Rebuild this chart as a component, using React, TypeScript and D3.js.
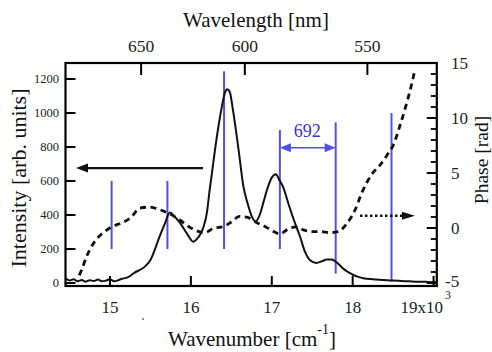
import React from "react";
import * as d3 from "d3";

// ---- data (wavenumber in 10^3 cm^-1) ----
const specWn = [
  14.46, 14.5, 14.55, 14.6, 14.65, 14.7, 14.75, 14.8, 14.85, 14.9, 14.95, 15.0, 15.05, 15.1, 15.15,
  15.2, 15.25, 15.3, 15.35, 15.4, 15.45, 15.5, 15.56, 15.62, 15.68, 15.74, 15.8, 15.87, 15.95,
  16.03, 16.08, 16.12, 16.16, 16.2, 16.23, 16.26, 16.3, 16.34, 16.38, 16.42, 16.45, 16.48, 16.52,
  16.59, 16.65, 16.7, 16.75, 16.8, 16.85, 16.9, 16.94, 17.0, 17.05, 17.1, 17.14, 17.2, 17.27,
  17.35, 17.41, 17.47, 17.55, 17.62, 17.68, 17.74, 17.8, 17.88, 17.95, 18.01, 18.07, 18.13,
  18.25, 18.38, 18.5, 18.6, 18.7, 18.8, 18.9, 19.0, 19.04,
];
const specIntensity = [
  25, 15, 22, 10, 18, 8, 16, 12, 20, 10, 14, 22, 10, 16, 25,
  30, 42, 60, 72, 85, 105, 135, 204, 282, 351, 414, 390, 351, 292,
  243, 262, 290, 335, 420, 540, 645, 790, 919, 1030, 1118, 1140, 1125, 1018,
  782, 566, 470, 395, 362, 400, 480, 547, 620, 640, 600, 566, 475, 375,
  272, 184, 135, 118, 128, 138, 138, 122, 86, 62, 47, 36, 28,
  22, 18, 14, 12, 10, 8, 7, 5, 5,
];

const phaseWn = [
  14.62, 14.65, 14.71, 14.77, 14.86, 14.94, 15.02, 15.14, 15.25, 15.37, 15.49, 15.62, 15.72,
  15.85, 16.0, 16.17, 16.28, 16.4, 16.5, 16.6, 16.7, 16.8, 16.92, 17.03, 17.1, 17.2, 17.3,
  17.4, 17.5, 17.6, 17.72, 17.82, 17.93, 18.03, 18.11, 18.23, 18.34, 18.44, 18.5, 18.58,
  18.65, 18.71, 18.77,
];
const phaseRad = [
  -4.3, -3.8, -2.6, -1.7, -0.8, -0.3, 0.1, 0.45, 0.9, 1.8, 1.9, 1.65, 1.35,
  0.8, 0.0, -0.42, -0.03, 0.12, 0.55, 1.05, 0.97, 0.55, 0.12, -0.35, -0.55, -0.1, 0.1,
  -0.2, -0.33, -0.33, -0.42, -0.33, 0.42, 1.64, 3.15, 4.82, 5.73, 6.8, 7.5, 9.2,
  10.9, 12.5, 14.4,
];

// blue marker lines
const markerWn = [15.02, 15.71, 16.41, 17.1, 17.79, 18.48];
const markerTop = [600, 600, 1245, 900, 945, 1000];
const markerBottom = [200, 200, 200, 200, 55, 8];

// ticks
const wnTicks = [15, 16, 17, 18, 19];
const wavelengthTicks = [650, 600, 550];
const intensityTicks = [0, 200, 400, 600, 800, 1000, 1200];
const phaseTicks = [-5, 0, 5, 10, 15];
const phaseMinorTicks = [-4, -3, -2, -1, 1, 2, 3, 4, 6, 7, 8, 9, 11, 12, 13, 14];

// annotations
const spacingLabel = "692";
const spacingFrom = 17.1;
const spacingTo = 17.79;
const spacingLevel = 796;

const W = 492;
const H = 352;
const FONT = '"Liberation Serif"';
const BLUE = "#5050ee";
const BLUE_TEXT = "#3434e0";

export default function App() {
  const x = d3.scaleLinear().domain([14.45, 19.04]).range([65.5, 436.8]);
  const yL = d3.scaleLinear().domain([0, 1200]).range([283, 79]);
  const yR = d3.scaleLinear().domain([-5, 15]).range([283, 63]);

  const left = x(14.45);
  const right = x(19.04);
  const top = yR(15);
  const bottom = 286;

  const specLine = d3
    .line<number>()
    .x((_, i) => x(specWn[i]))
    .y((d) => yL(d))
    .curve(d3.curveMonotoneX)(specIntensity) as string;

  const phaseLine = d3
    .line<number>()
    .x((_, i) => x(phaseWn[i]))
    .y((d) => yR(d))
    .curve(d3.curveMonotoneX)(phaseRad) as string;

  const tick = 10;
  const minorTick = 6;

  const solidArrowY = yL(676);
  const solidArrowFrom = x(16.15);
  const solidArrowTip = x(14.58);
  const dotArrowY = yR(1.12);
  const dotArrowFrom = x(18.09);
  const dotArrowTip = x(18.77);
  const sy = yL(spacingLevel);
  const sx1 = x(spacingFrom);
  const sx2 = x(spacingTo);

  const ts: React.CSSProperties = { fontFamily: FONT };

  return (
    <svg
      width={W}
      height={H}
      viewBox={`0 0 ${W} ${H}`}
      style={{ position: "absolute", left: 0, top: 0, background: "#fff", display: "block" }}
    >
      <rect x={0} y={0} width={W} height={H} fill="#fff" />

      {markerWn.map((w, i) => (
        <line
          key={"m" + i}
          x1={x(w)}
          x2={x(w)}
          y1={yL(markerTop[i])}
          y2={yL(markerBottom[i])}
          stroke={BLUE}
          strokeWidth={2}
        />
      ))}

      <path d={specLine} fill="none" stroke="#111" strokeWidth={2} strokeLinejoin="round" />
      <path d={phaseLine} fill="none" stroke="#111" strokeWidth={2.8} strokeDasharray="6 4.5" />

      <rect x={left} y={top} width={right - left} height={bottom - top} fill="none" stroke="#000" strokeWidth={2.2} />

      {wnTicks.map((t) => (
        <line key={"bt" + t} x1={x(t)} x2={x(t)} y1={bottom} y2={bottom - tick} stroke="#000" strokeWidth={2} />
      ))}
      {wnTicks.map((t) =>
        t < 19 ? (
          <text key={"bl" + t} style={ts} x={x(t)} y={313} fontSize={17} textAnchor="middle" fill="#222">
            {t}
          </text>
        ) : (
          <g key={"bl" + t}>
            <text style={ts} x={x(t) + 9.5} y={313} fontSize={17} textAnchor="end" fill="#222">
              {t}x10
            </text>
            <text style={ts} x={x(t) + 11.5} y={299} fontSize={12} fill="#222">
              3
            </text>
          </g>
        )
      )}

      {wavelengthTicks.map((l) => {
        const px = x(1e7 / l / 1000);
        return (
          <g key={"tl" + l}>
            <line x1={px} x2={px} y1={top} y2={top + tick + 2} stroke="#000" strokeWidth={2} />
            <text style={ts} x={px} y={52} fontSize={17.5} textAnchor="middle" fill="#222">
              {l}
            </text>
          </g>
        );
      })}

      {intensityTicks.map((t) => (
        <g key={"lt" + t}>
          <line x1={left} x2={left + tick} y1={yL(t)} y2={yL(t)} stroke="#000" strokeWidth={2} />
          <text style={ts} x={59} y={yL(t)} dy="0.35em" fontSize={12.5} textAnchor="end" fill="#222">
            {t}
          </text>
        </g>
      ))}

      {phaseMinorTicks.map((t) => (
        <line key={"rm" + t} x1={right} x2={right - minorTick} y1={yR(t)} y2={yR(t)} stroke="#000" strokeWidth={1.8} />
      ))}
      {phaseTicks.map((t) => (
        <g key={"rt" + t}>
          <line x1={right} x2={right - tick} y1={yR(t)} y2={yR(t)} stroke="#000" strokeWidth={2} />
          <text style={ts} x={t < 0 ? 445 : 451} y={yR(t) - (t < 0 ? 2 : 0)} dy="0.35em" fontSize={17} fill="#222">
            {t}
          </text>
        </g>
      ))}

      <text style={ts} x={256} y={27} fontSize={21} textAnchor="middle" fill="#111">
        Wavelength [nm]
      </text>
      <text style={ts} x={252} y={346} fontSize={21} textAnchor="middle" fill="#111">
        Wavenumber [cm
        <tspan dy={-12} fontSize={14}>
          -1
        </tspan>
        <tspan dy={12}>]</tspan>
      </text>
      <text style={ts} transform={`translate(26,178) rotate(-90)`} fontSize={22} textAnchor="middle" fill="#111">
        Intensity [arb. units]
      </text>
      <text style={ts} transform={`translate(488,160) rotate(-90)`} fontSize={19.5} textAnchor="middle" fill="#111">
        Phase [rad]
      </text>

      <line x1={solidArrowFrom} x2={solidArrowTip + 10} y1={solidArrowY} y2={solidArrowY} stroke="#111" strokeWidth={2.4} />
      <path
        d={`M${solidArrowTip},${solidArrowY} L${solidArrowTip + 12},${solidArrowY - 4.5} L${solidArrowTip + 12},${solidArrowY + 4.5} Z`}
        fill="#111"
      />

      <line x1={dotArrowFrom} x2={dotArrowTip - 12} y1={dotArrowY} y2={dotArrowY} stroke="#111" strokeWidth={2.6} strokeDasharray="2.5 2.5" />
      <path
        d={`M${dotArrowTip},${dotArrowY} L${dotArrowTip - 13},${dotArrowY - 4} L${dotArrowTip - 13},${dotArrowY + 4} Z`}
        fill="#111"
      />

      <line x1={sx1 + 8} x2={sx2 - 8} y1={sy} y2={sy} stroke={BLUE} strokeWidth={1.6} />
      <path d={`M${sx1},${sy} L${sx1 + 11},${sy - 4.5} L${sx1 + 11},${sy + 4.5} Z`} fill={BLUE} />
      <path d={`M${sx2},${sy} L${sx2 - 11},${sy - 4.5} L${sx2 - 11},${sy + 4.5} Z`} fill={BLUE} />
      <text style={ts} x={(sx1 + sx2) / 2 - 0.5} y={137} fontSize={18} textAnchor="middle" fill={BLUE_TEXT}>
        {spacingLabel}
      </text>

      <circle cx={143} cy={319} r={0.9} fill="#555" />
    </svg>
  );
}
